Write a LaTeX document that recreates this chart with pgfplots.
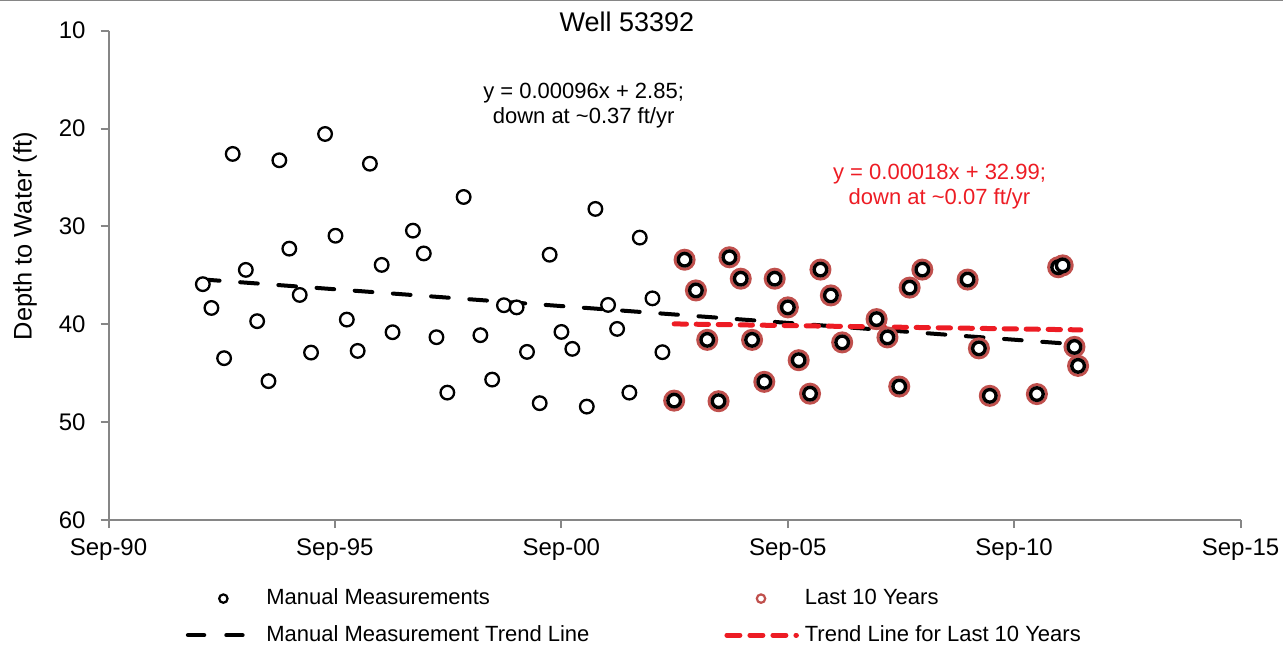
\documentclass[border=0pt]{standalone}
\usepackage{pgfplots}
\usepackage{pgfplotstable}
\pgfplotsset{compat=1.18}
\usepackage{fontspec}
\setmainfont{Liberation Sans}

\definecolor{axisgrey}{RGB}{134,134,134}
\definecolor{recentring}{RGB}{192,80,77}
\definecolor{trendred}{RGB}{237,28,36}

% Manual depth-to-water measurements (decimal year, ft below surface)
\pgfplotstableread{
year     depth
1992.75  35.90
1992.94  38.33
1993.22  43.46
1993.41  22.59
1993.70  34.44
1993.95  39.68
1994.20  45.81
1994.44  23.24
1994.66  32.27
1994.89  37.00
1995.14  42.89
1995.45  20.55
1995.68  30.95
1995.93  39.52
1996.17  42.72
1996.44  23.59
1996.70  33.93
1996.94  40.81
1997.39  30.43
1997.63  32.76
1997.91  41.32
1998.15  46.98
1998.51  26.99
1998.88  41.11
1999.14  45.65
1999.40  38.05
1999.68  38.27
1999.91  42.82
2000.19  48.06
2000.41  32.89
2000.67  40.78
2000.91  42.51
2001.23  48.41
2001.42  28.21
2001.70  38.02
2001.90  40.47
2002.17  46.98
2002.40  31.14
2002.68  37.35
2002.90  42.85
}\earlypts

% Measurements of the last ten years
\pgfplotstableread{
year     depth
2003.16  47.80
2003.39  33.40
2003.64  36.54
2003.89  41.59
2004.14  47.86
2004.38  33.15
2004.63  35.34
2004.88  41.59
2005.15  45.88
2005.38  35.34
2005.67  38.27
2005.91  43.67
2006.16  47.09
2006.39  34.41
2006.62  37.05
2006.87  41.85
2007.63  39.47
2007.87  41.34
2008.13  46.36
2008.36  36.25
2008.64  34.41
2009.64  35.43
2009.89  42.46
2010.13  47.31
2011.17  47.13
2011.64  34.17
2011.74  33.98
2012.00  42.31
2012.08  44.25
}\recentpts

\begin{document}
\begin{tikzpicture}
\path[use as bounding box] (0,0) rectangle (641.5pt,322.5pt);
\draw[axisgrey, line width=0.6pt] (0,322.2pt) -- (641.5pt,322.2pt);
\begin{axis}[
  at={(54.25pt,62.5pt)}, anchor=south west,
  scale only axis, width=566pt, height=244.65pt,
  xmin=1990.667, xmax=2015.667,
  ymin=10, ymax=60, y dir=reverse,
  axis x line*=bottom, axis y line*=left,
  axis line style={axisgrey, line width=1pt, -},
  tick style={axisgrey, line width=1pt},
  major tick length=4pt, tick align=outside,
  xtick={1990.667,1995.667,2000.667,2005.667,2010.667,2015.667},
  xticklabels={Sep-90,Sep-95,Sep-00,Sep-05,Sep-10,Sep-15},
  ytick={10,20,30,40,50,60},
  ticklabel style={font=\fontsize{12}{14}\selectfont, text=black},
  xticklabel style={yshift=-2pt},
  yticklabel style={xshift=-4pt},
  /pgf/number format/assume math mode=true,
  clip=false,
  ylabel={Depth to Water (ft)},
  every axis y label/.style={at={(axis description cs:-0.0738,0.58)},
    rotate=90, anchor=center, font=\fontsize{12.7}{15}\selectfont},
  legend columns=2,
  legend cell align=left,
  legend style={at={(axis description cs:0.068,-0.198)}, anchor=west,
    draw=none, fill=none, inner sep=0pt, outer sep=0pt,
    font=\fontsize{11}{13}\selectfont,
    nodes={inner sep=1pt, text height=8pt, text depth=1.65pt},
    row sep=6.65pt,
    /tikz/every even column/.append style={column sep=66.25pt}},
]
% last ten years: red rings under the black markers
\addplot[forget plot, only marks, mark=o, mark size=4.75pt,
  mark options={draw=recentring, line width=1.5pt}] table[x=year, y=depth] {\recentpts};
% all manual measurements
\addplot[forget plot, only marks, mark=*, mark size=3.4pt,
  mark options={draw=black, fill=white, line width=1.15pt}] table[x=year, y=depth] {\earlypts};
\addplot[forget plot, only marks, mark=*, mark size=3.15pt,
  mark options={draw=black, fill=white, line width=1.7pt}] table[x=year, y=depth] {\recentpts};
% trend lines
\addplot[forget plot, black, line width=2pt, line cap=round,
  dash pattern=on 8.85pt off 10.3pt] coordinates {(1992.73,35.41) (2012.08,42.06)};
\addplot[forget plot, trendred, line width=2.5pt, line cap=round,
  dash pattern=on 6.15pt off 4.85pt] coordinates {(2003.16,39.96) (2012.14,40.57)};

\node[anchor=base, font=\fontsize{13.5}{16}\selectfont]
  at (axis description cs:0.458,0.998) {Well 53392};
\node[align=center, font=\fontsize{11}{12.2}\selectfont] at (axis cs:2001.16,17.64)
  {y = 0.00096x + 2.85;\\down at \textasciitilde0.37 ft/yr};
\node[align=center, text=trendred, font=\fontsize{11}{12.5}\selectfont] at (axis cs:2009.02,25.94)
  {y = 0.00018x + 32.99;\\down at \textasciitilde0.07 ft/yr};

\addlegendimage{legend image code/.code={
  \path (0pt,0pt) (39pt,0pt);
  \draw[black, line width=1.1pt, fill=white] (18.75pt,0pt) circle (2.1pt);}}
\addlegendimage{legend image code/.code={
  \path (0pt,0pt) (39pt,0pt);
  \draw[recentring, line width=1.1pt, fill=white] (18.3pt,0pt) circle (2.1pt);}}
\addlegendimage{legend image code/.code={
  \path (0pt,0pt) (39pt,0pt);
  \draw[black, line width=2.2pt, line cap=round, dash pattern=on 8pt off 11.2pt]
    (1.1pt,0pt) -- (30pt,0pt);}}
\addlegendimage{legend image code/.code={
  \path (0pt,0pt) (39pt,0pt);
  \draw[trendred, line width=2.5pt, line cap=round, dash pattern=on 6.5pt off 5pt]
    (1.25pt,0pt) -- (36pt,0pt);}}
\legend{Manual Measurements, Last 10 Years, Manual Measurement Trend Line, Trend Line for Last 10 Years}
\end{axis}
\end{tikzpicture}
\end{document}
